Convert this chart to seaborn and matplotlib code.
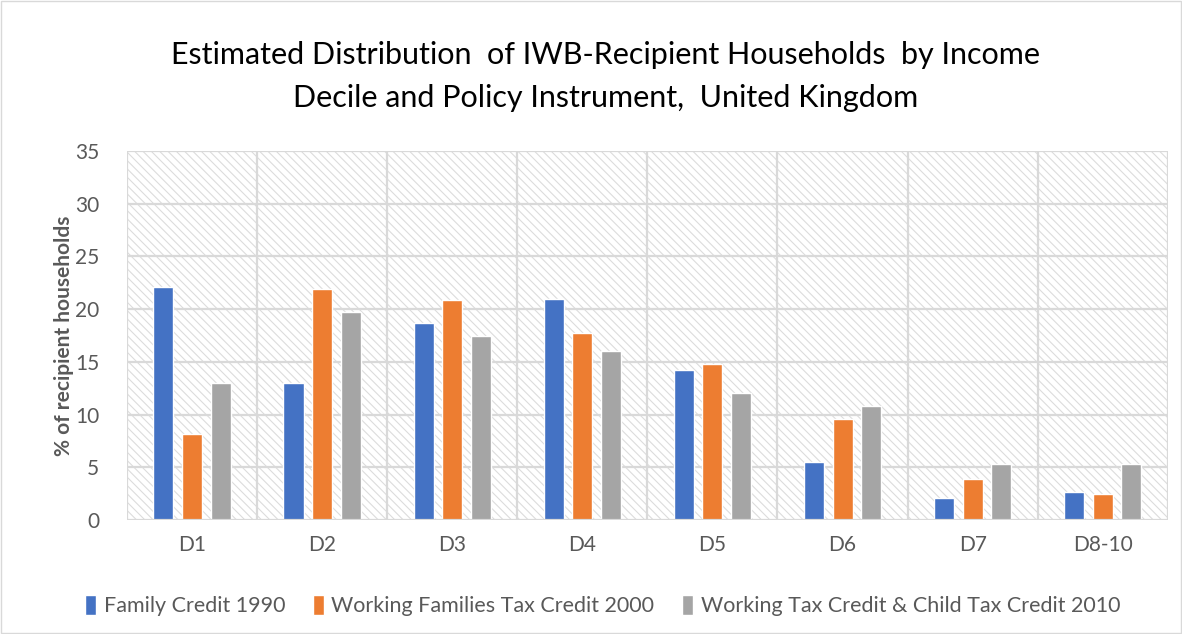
import matplotlib
matplotlib.use("Agg")
import matplotlib.pyplot as plt
from matplotlib.patches import Rectangle
import seaborn as sns
import pandas as pd

categories = ["D1", "D2", "D3", "D4", "D5", "D6", "D7", "D8-10"]
family_credit_1990 = [22.1, 13.0, 18.7, 21.0, 14.2, 5.5, 2.1, 2.7]
wftc_2000 = [8.2, 21.9, 20.9, 17.7, 14.8, 9.6, 3.9, 2.5]
wtc_ctc_2010 = [13.0, 19.7, 17.5, 16.0, 12.0, 10.8, 5.3, 5.3]
series_names = ["Family Credit 1990", "Working Families Tax Credit 2000",
                "Working Tax Credit & Child Tax Credit 2010"]
y_ticks = [0, 5, 10, 15, 20, 25, 30, 35]
colors = ["#4472C4", "#ED7D31", "#A5A5A5"]

rows = []
for name, vals in zip(series_names, [family_credit_1990, wftc_2000, wtc_ctc_2010]):
    for c, v in zip(categories, vals):
        rows.append({"Decile": c, "Series": name, "Value": v})
df = pd.DataFrame(rows)

sns.set_theme(style="white")
plt.rcParams['font.family'] = ['Lato', 'DejaVu Sans']
plt.rcParams['hatch.linewidth'] = 0.8
plt.rcParams['hatch.color'] = '#dcdcdc'

fig = plt.figure(figsize=(11.82, 6.34), dpi=100)
ax = fig.add_axes([0.1074, 0.1798, 0.8806, 0.582])

# hatched background
bg = Rectangle((0, 0), 1, 1, transform=ax.transAxes, facecolor="white",
               edgecolor="#dcdcdc", hatch="\\\\\\\\", linewidth=0, zorder=0)
ax.add_patch(bg)

sns.barplot(data=df, x="Decile", y="Value", hue="Series", palette=colors,
            width=0.66, gap=0.3, ax=ax, zorder=3, saturation=1, legend=True)

ax.set_ylim(0, 35)
ax.set_xlim(-0.5, len(categories) - 0.5)
ax.set_yticks(y_ticks, [str(t) for t in y_ticks], fontsize=15, color="#595959")
ax.set_xticks(range(len(categories)), categories, fontsize=15, color="#595959")
for y in y_ticks[1:]:
    ax.axhline(y, color="#d9d9d9", lw=1.6, zorder=1)
for x in range(len(categories) + 1):
    ax.axvline(x - 0.5, color="#d9d9d9", lw=1.6, zorder=1)
ax.axhline(0, color="#d9d9d9", lw=1.6, zorder=4)
for s in ax.spines.values():
    s.set_visible(False)

ax.tick_params(axis="both", length=0)
ax.tick_params(axis="x", pad=11)
ax.tick_params(axis="y", pad=20)
ax.set_xlabel("")
ax.set_ylabel("% of recipient households", fontsize=15, fontweight="bold",
              color="#595959", labelpad=1)

fig.text(0.512, 0.913, "Estimated Distribution  of IWB-Recipient Households  by Income",
         ha="center", va="center", fontsize=22, color="#000000")
fig.text(0.512, 0.846, "Decile and Policy Instrument,  United Kingdom",
         ha="center", va="center", fontsize=22, color="#000000")

handles, labels = ax.get_legend_handles_labels()
ax.legend_.remove()
fig.legend(handles, labels, loc="center", bbox_to_anchor=(0.51, 0.045), ncol=3,
           frameon=False, fontsize=15.5, handlelength=0.5, handleheight=1.1,
           handletextpad=0.35, columnspacing=1.3, labelcolor="#595959")

# outer border
fig.patches.append(Rectangle((0.001, 0.001), 0.998, 0.998, transform=fig.transFigure,
                             fill=False, edgecolor="#d9d9d9", lw=1))

fig.savefig("out.png", dpi=100)
